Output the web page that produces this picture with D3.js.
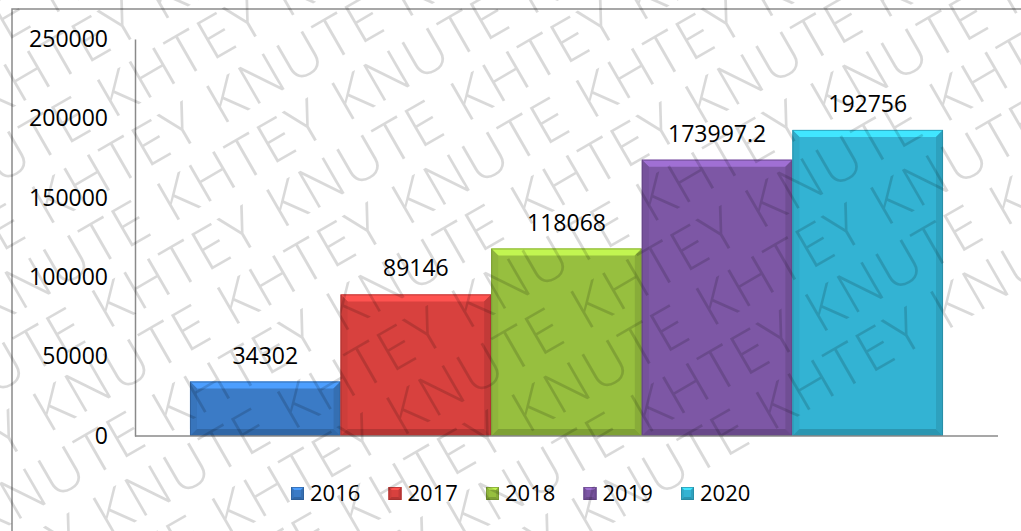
<!DOCTYPE html>
<html>
<head>
<meta charset="utf-8">
<script src="https://cdn.jsdelivr.net/npm/d3@7"></script>
<style>
  body { margin: 0; background: #fff; }
  text { font-family: "Open Sans", "Noto Sans", sans-serif; }
</style>
</head>
<body>
<svg width="1021" height="531"></svg>
<script>
// chart data
const years = ['2016', '2017', '2018', '2019', '2020'];
const values = [34302, 89146, 118068, 173997.2, 192756];
const labels = ['34302', '89146', '118068', '173997.2', '192756'];
const colors = ['#3b7bc6', '#d8413e', '#97bf3f', '#7d57a5', '#33b3d3'];
const yTicks = [0, 50000, 100000, 150000, 200000, 250000];

const svg = d3.select('svg');
const W = 1021, H = 531;
const plotL = 135, plotR = 998, plotT = 39, plotB = 436;

// outer frame
svg.append('rect')
  .attr('x', 12).attr('y', 9)
  .attr('width', W + 20).attr('height', H + 20)
  .attr('fill', 'none').attr('stroke', '#8a8a8a').attr('stroke-width', 1.5);

const y = d3.scaleLinear().domain([0, 250000]).range([plotB, plotT]);
const x0 = d3.scaleBand().domain(['']).range([plotL, plotR]).paddingOuter(0.073);
const x1 = d3.scaleBand().domain(years).range([0, x0.bandwidth()]);

// y axis
const gy = svg.append('g')
  .attr('transform', `translate(${plotL},0)`)
  .call(d3.axisLeft(y).tickValues(yTicks).tickFormat(d3.format('d'))
    .tickSizeInner(0).tickSizeOuter(0).tickPadding(27));
gy.select('.domain').attr('stroke', '#8a8a8a').attr('stroke-width', 1.5);
gy.selectAll('text').attr('font-size', 23).attr('fill', '#000')
  .attr('font-family', '"Open Sans", sans-serif');

// bevelled box
function bevel(g, bx, by, w, h, c, b) {
  const col = d3.color(c);
  g.append('rect')
    .attr('x', bx).attr('y', by).attr('width', w).attr('height', h)
    .attr('fill', c);
  const pts = [
    [[bx, by], [bx + w, by], [bx + w - b, by + b], [bx + b, by + b], col.brighter(0.7)],
    [[bx, by], [bx + b, by + b], [bx + b, by + h - b], [bx, by + h], col.darker(0.15)],
    [[bx + w, by], [bx + w - b, by + b], [bx + w - b, by + h - b], [bx + w, by + h], col.darker(0.3)],
    [[bx, by + h], [bx + b, by + h - b], [bx + w - b, by + h - b], [bx + w, by + h], col.darker(0.5)]
  ];
  pts.forEach(p => {
    g.append('path')
      .attr('d', 'M' + p.slice(0, 4).map(q => q.join(',')).join('L') + 'Z')
      .attr('fill', p[4].formatHex());
  });
  g.append('rect')
    .attr('x', bx + 0.5).attr('y', by + 0.5).attr('width', w - 1).attr('height', h - 1)
    .attr('fill', 'none').attr('stroke', col.darker(0.9).formatHex()).attr('stroke-opacity', 0.6);
}

// bars
const bars = svg.append('g').attr('transform', `translate(${x0('')},0)`);
years.forEach((yr, i) => {
  const g = bars.append('g');
  const bx = x1(yr), by = y(values[i]);
  bevel(g, bx, by, x1.bandwidth(), y(0) - by, colors[i], 7);
  g.append('text')
    .attr('x', bx + x1.bandwidth() / 2).attr('y', by - 18)
    .attr('text-anchor', 'middle').attr('font-size', 23).attr('fill', '#000')
    .text(labels[i]);
});

// x axis line
svg.append('line')
  .attr('x1', plotL).attr('x2', plotR).attr('y1', plotB).attr('y2', plotB)
  .attr('stroke', '#8a8a8a').attr('stroke-width', 1.5);

// legend
const legend = svg.append('g').attr('transform', 'translate(291,487)');
years.forEach((yr, i) => {
  const g = legend.append('g').attr('transform', `translate(${i * 97.5},0)`);
  bevel(g, 0, 0, 13, 13, colors[i], 3);
  g.append('text')
    .attr('x', 19).attr('y', 14)
    .attr('font-size', 22).attr('fill', '#000')
    .text(yr);
});

// watermark
const wm = svg.append('g')
  .attr('transform', 'rotate(-30 510 265)')
  .attr('pointer-events', 'none');
const phrase = 'KHTEY KNUTE KHTEY KNUTE KHTEY KNUTE KHTEY KNUTE KHTEY KNUTE';
d3.range(-7, 10).forEach(r => {
  wm.append('text')
    .attr('x', -700 + (r % 2 ? 110 : 0))
    .attr('y', r * 60)
    .attr('font-family', '"DejaVu Sans", sans-serif')
    .attr('font-weight', 200)
    .attr('font-size', 58)
    .attr('letter-spacing', 3)
    .attr('fill', '#000')
    .attr('fill-opacity', 0.15)
    .text(phrase);
});
</script>
</body>
</html>
